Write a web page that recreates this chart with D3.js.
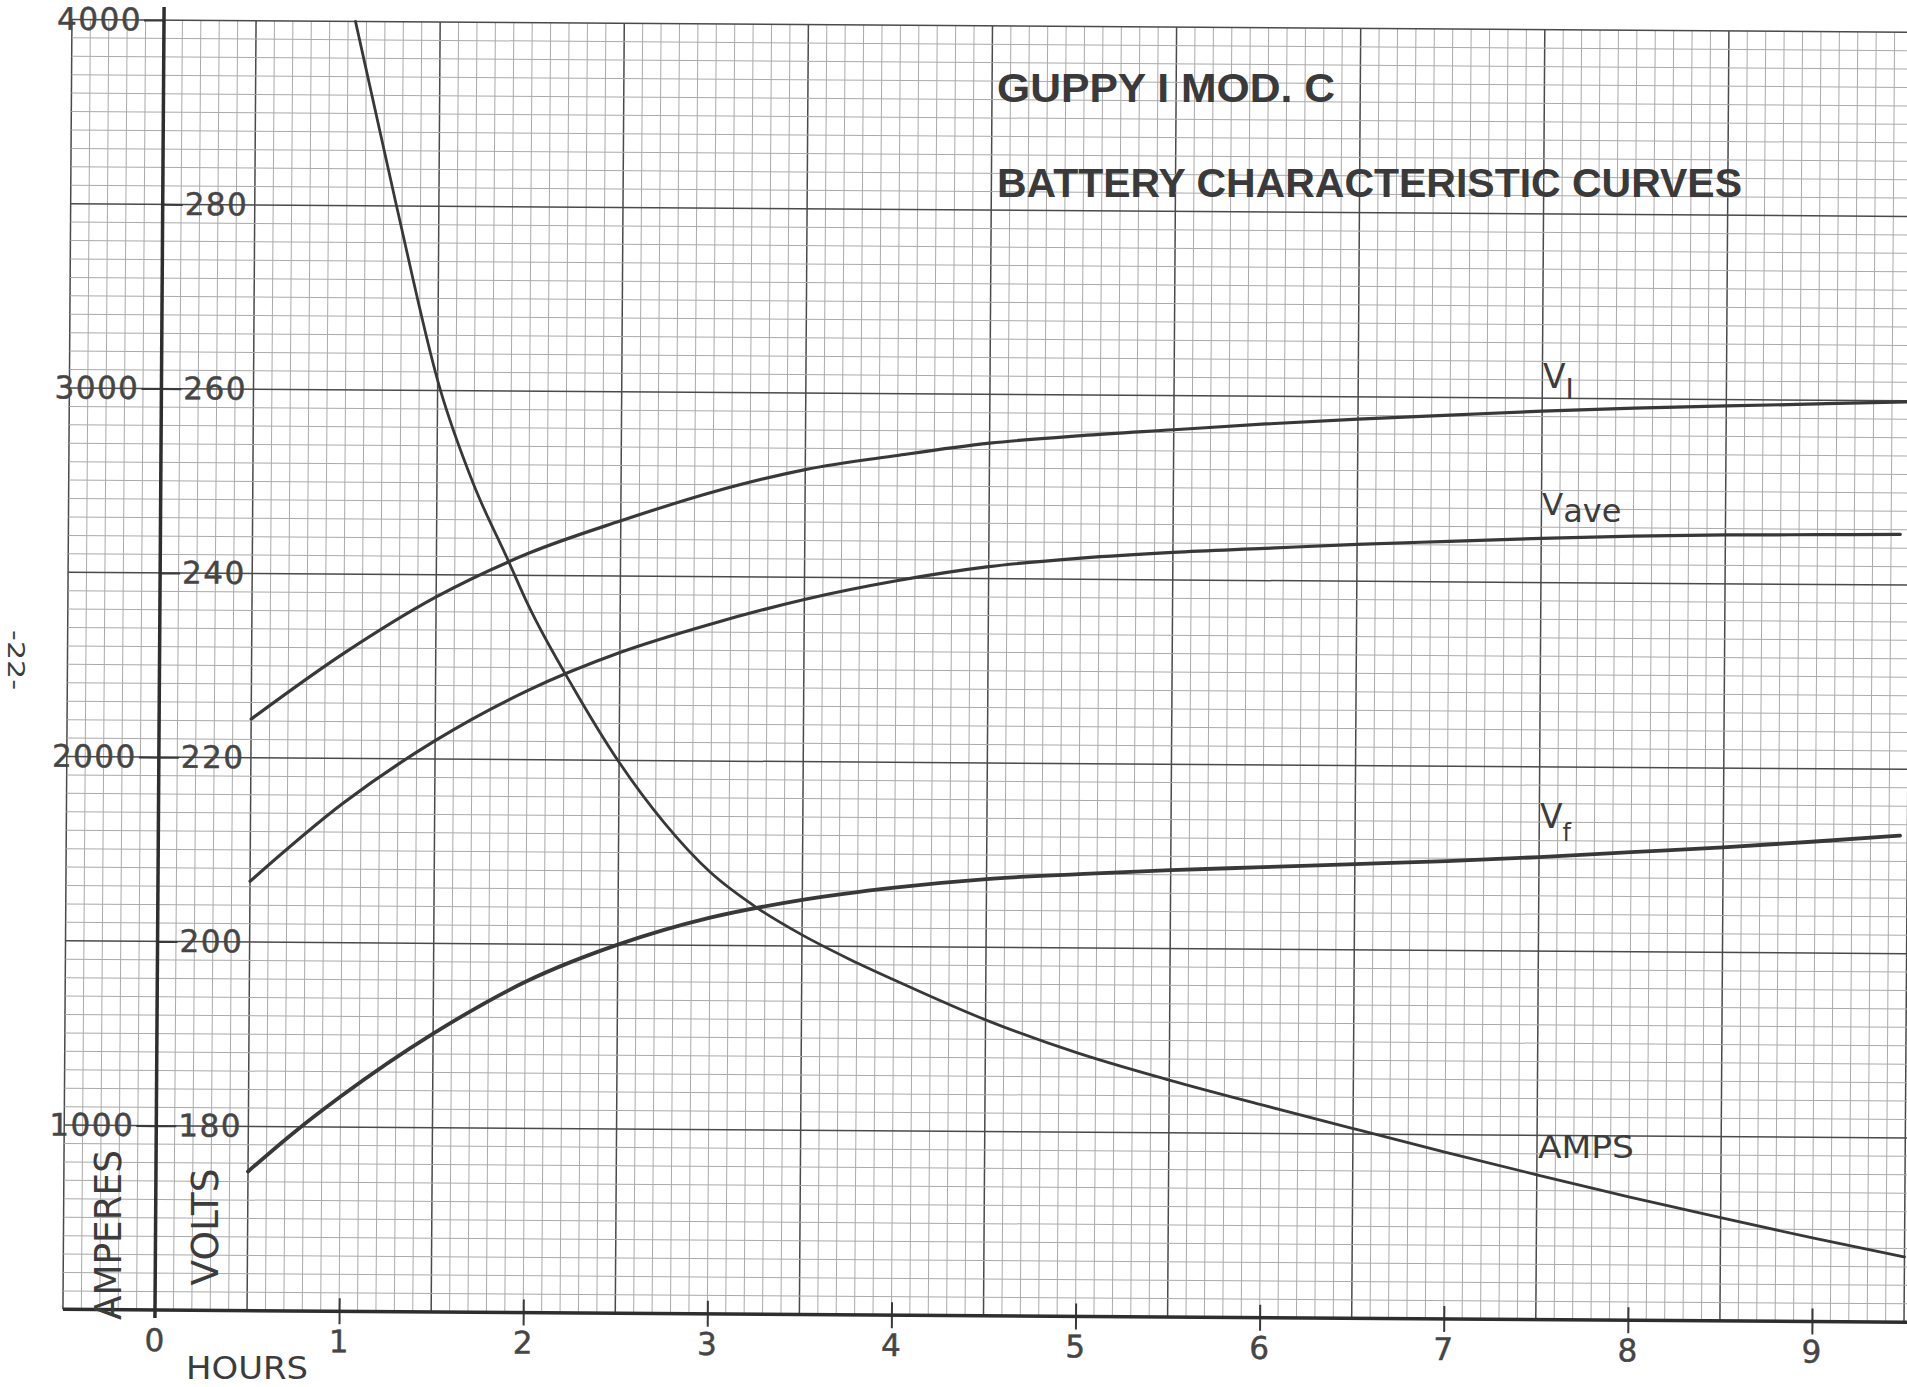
<!DOCTYPE html>
<html>
<head>
<meta charset="utf-8">
<script src="https://cdn.jsdelivr.net/npm/d3@7"></script>
<style>
  html, body { margin: 0; padding: 0; background: #fff; }
  svg { display: block; }
  .tick text { font-family: "DejaVu Sans", sans-serif; font-size: 31px; fill: #454545; stroke: #454545; stroke-width: 0.5px; letter-spacing: 1.5px; }
  .tick line { stroke: #3a3a3a; stroke-width: 2; }
  .lettering { font-family: "DejaVu Sans", sans-serif; fill: #3c3c3c; }
  .title { font-family: "Liberation Sans", Arial, sans-serif; font-weight: bold; font-size: 40px; fill: #3a3a3a; }
</style>
</head>
<body>
<div id="chart"></div>
<script>
// values (hours -> volts / amperes)
const viHours = [0.5, 1, 1.5, 2, 2.5, 3, 3.5, 4, 4.5, 5, 5.5, 6, 6.5, 7, 7.5, 8, 8.5, 9, 9.5];
const viVolts = [224.2, 231.4, 237.6, 242.4, 246.0, 249.2, 251.7, 253.3, 254.7, 255.6, 256.3, 257.0, 257.6, 258.1, 258.6, 259.0, 259.3, 259.6, 259.9];

const vaveHours = [0.5, 1, 1.5, 2, 2.5, 3, 3.5, 4, 4.5, 5, 5.5, 6, 6.5, 7, 7.5, 8, 8.5, 9, 9.45];
const vaveVolts = [206.6, 215.1, 222.0, 227.5, 231.7, 234.9, 237.6, 239.7, 241.3, 242.3, 243.0, 243.5, 244.0, 244.4, 244.8, 245.1, 245.3, 245.4, 245.5];

const vfHours = [0.5, 0.75, 1, 1.5, 2, 2.5, 3, 3.5, 4, 4.5, 5, 5.5, 6, 6.5, 7, 7.5, 8, 8.5, 9, 9.46];
const vfVolts = [175.1, 179.4, 183.3, 190.2, 195.9, 200.0, 203.0, 205.0, 206.4, 207.4, 208.0, 208.5, 208.9, 209.3, 209.7, 210.2, 210.8, 211.4, 212.1, 212.8];

const ampsHours = [1.04, 1.27, 1.51, 1.7, 1.89, 2, 2.25, 2.5, 2.75, 3, 3.25, 3.5, 3.75, 4, 4.5, 5, 5.5, 6, 6.5, 7, 7.5, 8, 8.5, 9, 9.5];
const ampsValues = [4000, 3500, 3010, 2745, 2540, 2420, 2195, 1995, 1830, 1698, 1604, 1530, 1467, 1410, 1303, 1215, 1143, 1078, 1015, 953, 893, 835, 780, 727, 677];

const hourTicks = [0, 1, 2, 3, 4, 5, 6, 7, 8, 9];
const ampTicks = [1000, 2000, 3000, 4000];
const voltTicks = [180, 200, 220, 240, 260, 280];

const W = 1907, H = 1387;

const x = d3.scaleLinear().domain([0, 9]).range([155, 1812]);
const yA = d3.scaleLinear().domain([500, 4000]).range([1310, 20]);
const yV = d3.scaleLinear().domain([160, 300]).range([1310, 20]);

const svg = d3.select('#chart').append('svg')
  .attr('width', W)
  .attr('height', H);

svg.append('rect').attr('width', W).attr('height', H).attr('fill', '#fff');

// the scanned sheet sits slightly skewed
const g = svg.append('g')
  .attr('transform', 'rotate(0.4,155,1310)');

// graph paper: 0.1 h by 50 A squares, heavy every tenth line
const grid = g.append('g');
const xLeft = x(-0.5), xRight = x(9.56);

d3.range(-5, 96).forEach(k => {
  const heavy = Math.abs(k) % 10 === 5;
  grid.append('line')
    .attr('x1', x(k / 10)).attr('x2', x(k / 10))
    .attr('y1', yA(4000)).attr('y2', yA(500))
    .attr('stroke', heavy ? '#4a4a4a' : '#aaaaaa')
    .attr('stroke-width', heavy ? 1.5 : 1);
});

d3.range(500, 4001, 50).forEach(a => {
  const heavy = a % 500 === 0;
  grid.append('line')
    .attr('x1', xLeft).attr('x2', xRight)
    .attr('y1', yA(a)).attr('y2', yA(a))
    .attr('stroke', heavy ? '#4a4a4a' : '#aaaaaa')
    .attr('stroke-width', heavy ? 1.5 : 1);
});

// axes
const xAxis = g.append('g')
  .attr('transform', 'translate(0,' + yA(500) + ')')
  .call(d3.axisBottom(x).tickValues(hourTicks).tickSize(13).tickPadding(6).tickFormat(d3.format('d')));
xAxis.select('.domain').remove();
xAxis.selectAll('.tick line').attr('y1', -13);
xAxis.selectAll('.tick').filter(d => d === 0).select('line').remove();

const ampAxis = g.append('g')
  .attr('transform', 'translate(' + x(0) + ',0)')
  .call(d3.axisLeft(yA).tickValues(ampTicks).tickSize(20).tickPadding(2).tickFormat(d3.format('d')));
ampAxis.select('.domain').remove();

const voltAxis = g.append('g')
  .attr('transform', 'translate(' + x(0) + ',0)')
  .call(d3.axisRight(yV).tickValues(voltTicks).tickSize(20).tickPadding(2).tickFormat(d3.format('d')));
voltAxis.select('.domain').remove();

g.selectAll('.tick text').attr('font-family', null).attr('font-size', null);

g.append('line')
  .attr('x1', xLeft).attr('x2', xRight)
  .attr('y1', yA(500)).attr('y2', yA(500))
  .attr('stroke', '#2e2e2e').attr('stroke-width', 3.5);

g.append('line')
  .attr('x1', x(0)).attr('x2', x(0))
  .attr('y1', yA(4000) - 13).attr('y2', yA(500) + 8)
  .attr('stroke', '#2e2e2e').attr('stroke-width', 3.5);

// curves
const curves = g.append('g')
  .attr('fill', 'none')
  .attr('stroke', '#383838')
  .attr('stroke-linecap', 'round');

const voltLine = d3.line()
  .x(d => x(d[0]))
  .y(d => yV(d[1]))
  .curve(d3.curveMonotoneX);

const ampLine = d3.line()
  .x(d => x(d[0]))
  .y(d => yA(d[1]))
  .curve(d3.curveMonotoneX);

curves.append('path')
  .datum(d3.zip(viHours, viVolts))
  .attr('stroke-width', 3.2)
  .attr('d', voltLine);

curves.append('path')
  .datum(d3.zip(vaveHours, vaveVolts))
  .attr('stroke-width', 3.2)
  .attr('d', voltLine);

curves.append('path')
  .datum(d3.zip(vfHours, vfVolts))
  .attr('stroke-width', 3.8)
  .attr('d', voltLine);

curves.append('path')
  .datum(d3.zip(ampsHours, ampsValues))
  .attr('stroke-width', 2.8)
  .attr('d', ampLine);

// lettering on the sheet
svg.append('text').attr('class', 'title')
  .attr('x', 997).attr('y', 102)
  .attr('textLength', 338).attr('lengthAdjust', 'spacingAndGlyphs')
  .text('GUPPY I MOD. C');

svg.append('text').attr('class', 'title')
  .attr('x', 997).attr('y', 197)
  .attr('textLength', 745).attr('lengthAdjust', 'spacingAndGlyphs')
  .text('BATTERY CHARACTERISTIC CURVES');

const vi = svg.append('text').attr('class', 'lettering')
  .attr('x', 1543).attr('y', 388).attr('font-size', 33);
vi.append('tspan').text('V');
vi.append('tspan').attr('dy', 11).attr('font-size', 28).text('I');

const vave = svg.append('text').attr('class', 'lettering')
  .attr('x', 1542).attr('y', 515).attr('font-size', 31);
vave.append('tspan').text('V');
vave.append('tspan').attr('dy', 7).attr('font-size', 32).text('ave');

const vf = svg.append('text').attr('class', 'lettering')
  .attr('x', 1540).attr('y', 828).attr('font-size', 33);
vf.append('tspan').text('V');
vf.append('tspan').attr('dy', 13).attr('font-size', 24).text('f');

svg.append('text').attr('class', 'lettering')
  .attr('x', 1538).attr('y', 1158).attr('font-size', 32)
  .attr('textLength', 96).attr('lengthAdjust', 'spacingAndGlyphs')
  .text('AMPS');

svg.append('text').attr('class', 'lettering')
  .attr('transform', 'translate(121,1235) rotate(-90)')
  .attr('text-anchor', 'middle').attr('font-size', 37)
  .attr('textLength', 170).attr('lengthAdjust', 'spacingAndGlyphs')
  .text('AMPERES');

svg.append('text').attr('class', 'lettering')
  .attr('transform', 'translate(218,1227) rotate(-90)')
  .attr('text-anchor', 'middle').attr('font-size', 37)
  .attr('textLength', 117).attr('lengthAdjust', 'spacingAndGlyphs')
  .text('VOLTS');

svg.append('text').attr('class', 'lettering')
  .attr('x', 186).attr('y', 1379).attr('font-size', 32)
  .attr('textLength', 122).attr('lengthAdjust', 'spacingAndGlyphs')
  .text('HOURS');

svg.append('text').attr('class', 'lettering')
  .attr('transform', 'translate(8,660) rotate(90)')
  .attr('text-anchor', 'middle').attr('font-size', 23)
  .attr('textLength', 60).attr('lengthAdjust', 'spacingAndGlyphs')
  .attr('fill', '#555')
  .text('-22-');
</script>
</body>
</html>
